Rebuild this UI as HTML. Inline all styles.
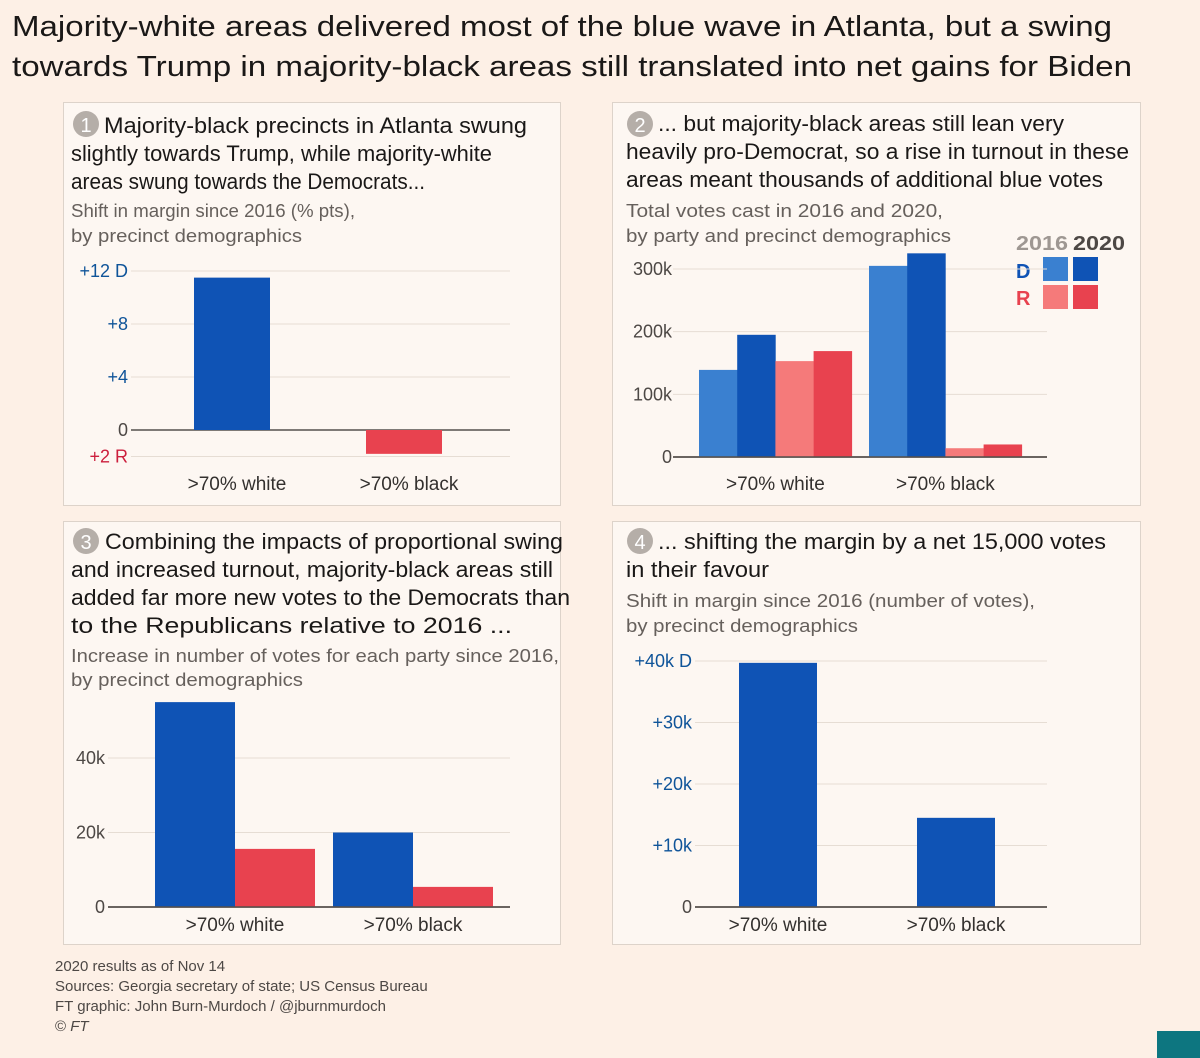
<!DOCTYPE html>
<html><head><meta charset="utf-8"><style>
html,body{margin:0;padding:0;background:#fdf0e6;}
svg{display:block;font-family:"Liberation Sans",sans-serif;}
</style></head><body>
<svg id="s" width="1200" height="1058" viewBox="0 0 1200 1058">
<rect width="1200" height="1058" fill="#fdf0e6"/>
<g font-size="29" fill="#1a1817">
<text x="12" y="36" textLength="1100" lengthAdjust="spacingAndGlyphs">Majority-white areas delivered most of the blue wave in Atlanta, but a swing</text>
<text x="12" y="76" textLength="1120" lengthAdjust="spacingAndGlyphs">towards Trump in majority-black areas still translated into net gains for Biden</text>
</g>
<rect x="63.5" y="102.5" width="497" height="403" fill="#fdf7f2" stroke="#ddd3ca"/>
<rect x="612.5" y="102.5" width="528" height="403" fill="#fdf7f2" stroke="#ddd3ca"/>
<rect x="63.5" y="521.5" width="497" height="423" fill="#fdf7f2" stroke="#ddd3ca"/>
<rect x="612.5" y="521.5" width="528" height="423" fill="#fdf7f2" stroke="#ddd3ca"/>

<g font-size="22" fill="#1a1817">
<circle cx="86" cy="124" r="13" fill="#b5aea8"/><text x="86" y="132" font-size="20" fill="#fff" text-anchor="middle">1</text>
<text x="104" y="133" textLength="423" lengthAdjust="spacingAndGlyphs">Majority-black precincts in Atlanta swung</text>
<text x="71" y="161" textLength="421" lengthAdjust="spacingAndGlyphs">slightly towards Trump, while majority-white</text>
<text x="71" y="189" textLength="354" lengthAdjust="spacingAndGlyphs">areas swung towards the Democrats...</text>
</g>
<g font-size="18" fill="#66605c">
<text x="71" y="217" textLength="284" lengthAdjust="spacingAndGlyphs">Shift in margin since 2016 (% pts),</text>
<text x="71" y="242" textLength="231" lengthAdjust="spacingAndGlyphs">by precinct demographics</text>
</g>

<g font-size="22" fill="#1a1817">
<circle cx="640" cy="124" r="13" fill="#b5aea8"/><text x="640" y="132" font-size="20" fill="#fff" text-anchor="middle">2</text>
<text x="658" y="131" textLength="406" lengthAdjust="spacingAndGlyphs">... but majority-black areas still lean very</text>
<text x="626" y="159" textLength="503" lengthAdjust="spacingAndGlyphs">heavily pro-Democrat, so a rise in turnout in these</text>
<text x="626" y="187" textLength="477" lengthAdjust="spacingAndGlyphs">areas meant thousands of additional blue votes</text>
</g>
<g font-size="18" fill="#66605c">
<text x="626" y="217" textLength="317" lengthAdjust="spacingAndGlyphs">Total votes cast in 2016 and 2020,</text>
<text x="626" y="242" textLength="325" lengthAdjust="spacingAndGlyphs">by party and precinct demographics</text>
</g>
<g font-size="20" font-weight="bold">
<text x="1016" y="250" fill="#9e9792" textLength="52" lengthAdjust="spacingAndGlyphs">2016</text>
<text x="1073" y="250" fill="#4d4845" textLength="52" lengthAdjust="spacingAndGlyphs">2020</text>
<text x="1016" y="278" fill="#0f53b5">D</text>
<text x="1016" y="305" fill="#e8424f">R</text>
<rect x="1043" y="257" width="25" height="24" fill="#3a80d0"/>
<rect x="1073" y="257" width="25" height="24" fill="#0f53b5"/>
<rect x="1043" y="285" width="25" height="24" fill="#f57a7a"/>
<rect x="1073" y="285" width="25" height="24" fill="#e8424f"/>
</g>

<g font-size="22" fill="#1a1817">
<circle cx="86" cy="541" r="13" fill="#b5aea8"/><text x="86" y="549" font-size="20" fill="#fff" text-anchor="middle">3</text>
<text x="105" y="549" textLength="458" lengthAdjust="spacingAndGlyphs">Combining the impacts of proportional swing</text>
<text x="71" y="577" textLength="482" lengthAdjust="spacingAndGlyphs">and increased turnout, majority-black areas still</text>
<text x="71" y="605" textLength="499" lengthAdjust="spacingAndGlyphs">added far more new votes to the Democrats than</text>
<text x="71" y="633" textLength="441" lengthAdjust="spacingAndGlyphs">to the Republicans relative to 2016 ...</text>
</g>
<g font-size="18" fill="#66605c">
<text x="71" y="662" textLength="488" lengthAdjust="spacingAndGlyphs">Increase in number of votes for each party since 2016,</text>
<text x="71" y="686" textLength="232" lengthAdjust="spacingAndGlyphs">by precinct demographics</text>
</g>

<g font-size="22" fill="#1a1817">
<circle cx="640" cy="541" r="13" fill="#b5aea8"/><text x="640" y="549" font-size="20" fill="#fff" text-anchor="middle">4</text>
<text x="658" y="549" textLength="448" lengthAdjust="spacingAndGlyphs">... shifting the margin by a net 15,000 votes</text>
<text x="626" y="577" textLength="143" lengthAdjust="spacingAndGlyphs">in their favour</text>
</g>
<g font-size="18" fill="#66605c">
<text x="626" y="607" textLength="409" lengthAdjust="spacingAndGlyphs">Shift in margin since 2016 (number of votes),</text>
<text x="626" y="632" textLength="232" lengthAdjust="spacingAndGlyphs">by precinct demographics</text>
</g>

<g font-size="15" fill="#4d4845">
<text x="55" y="971">2020 results as of Nov 14</text>
<text x="55" y="991">Sources: Georgia secretary of state; US Census Bureau</text>
<text x="55" y="1011">FT graphic: John Burn-Murdoch / @jburnmurdoch</text>
<text x="55" y="1031">© <tspan font-style="italic">FT</tspan></text>
</g>
<rect x="1157" y="1031" width="43" height="27" fill="#0d7680"/>
<g id="charts"></g>
</svg>
<script>
// Panel 1
const p1Cats = [">70% white", ">70% black"];
const p1Vals = [11.5, -1.8];
const p1Ticks = [12, 8, 4, 0, -2];
const p1TickLabels = ["+12 D", "+8", "+4", "0", "+2 R"];
// Panel 2
const p2Cats = [">70% white", ">70% black"];
const p2D2016 = [139, 305];
const p2D2020 = [195, 325];
const p2R2016 = [153, 14];
const p2R2020 = [169, 20];
const p2Ticks = [0, 100, 200, 300];
const p2TickLabels = ["0", "100k", "200k", "300k"];
// Panel 3
const p3Cats = [">70% white", ">70% black"];
const p3D = [55, 20];
const p3R = [15.6, 5.4];
const p3Ticks = [0, 20, 40];
const p3TickLabels = ["0", "20k", "40k"];
// Panel 4
const p4Cats = [">70% white", ">70% black"];
const p4Vals = [39.7, 14.5];
const p4Ticks = [0, 10, 20, 30, 40];
const p4TickLabels = ["0", "+10k", "+20k", "+30k", "+40k D"];

const NS = "http://www.w3.org/2000/svg";
const root = document.getElementById("charts");
function mk(tag, attrs, parent) {
  const e = document.createElementNS(NS, tag);
  for (const k in attrs) e.setAttribute(k, attrs[k]);
  (parent || root).appendChild(e);
  return e;
}
function lin(d0, d1, r0, r1) { return v => r0 + (v - d0) * (r1 - r0) / (d1 - d0); }
const C = {d16:"#3a80d0", d20:"#0f53b5", r16:"#f57a7a", r20:"#e8424f"};

function axis(g, ticks, labels, y, x0, x1, labelX, colorFn) {
  ticks.forEach((t, i) => {
    const isZero = t === 0;
    const ln = mk("line", {x1: x0, x2: x1, y1: y(t), y2: y(t), stroke: isZero ? "#55504c" : "#e6ddd4", "stroke-width": isZero ? 1.5 : 1}, g);
    
    
    const tx = mk("text", {x: labelX, y: y(t) + 6, "text-anchor": "end", "font-size": 18, fill: colorFn(t)}, g);
    tx.textContent = labels[i];
    
    
  });
}
function catLabel(g, x, y, txt) {
  const t = mk("text", {x: x, y: y, "text-anchor": "middle", "font-size": 19, fill: "#33302e"}, g);
  t.textContent = txt;
  
  
}
function bar(g, x, w, y0, y1, fill, name) {
  const r = mk("rect", {x: x, width: w, y: Math.min(y0, y1), height: Math.abs(y1 - y0), fill: fill}, g);
  
  
}

// Chart 1
{
  const g = mk("g", {});
  
  
  const y = lin(0, 12, 430, 271);
  axis(g, p1Ticks, p1TickLabels, y, 131, 510, 128, t => t > 0 ? "#0f5499" : (t < 0 ? "#cc1f3d" : "#4d4845"));
  const centers = [232, 404];
  p1Cats.forEach((c, i) => {
    bar(g, centers[i] - 38, 76, y(0), y(p1Vals[i]), p1Vals[i] >= 0 ? C.d20 : C.r20, "bar-" + (i ? "black" : "white"));
    catLabel(g, centers[i] + 5, 490, c);
  });
}
// Chart 2
{
  const g = mk("g", {});
  
  
  const y = lin(0, 300, 457, 269);
  axis(g, p2Ticks, p2TickLabels, y, 673, 1047, 672, t => "#4d4845");
  const starts = [699, 869], bw = 38.2;
  const series = [[p2D2016, C.d16, "d-2016"], [p2D2020, C.d20, "d-2020"], [p2R2016, C.r16, "r-2016"], [p2R2020, C.r20, "r-2020"]];
  p2Cats.forEach((c, i) => {
    series.forEach((s, j) => bar(g, starts[i] + j * bw, bw + 0.3, y(0), y(s[0][i]), s[1], "bar-" + s[2] + "-" + i));
    catLabel(g, starts[i] + 2 * bw, 490, c);
  });
  // re-draw zero line on top
  const z = mk("line", {x1: 673, x2: 1047, y1: y(0), y2: y(0), stroke: "#55504c", "stroke-width": 1.5}, g);
  
  
}
// Chart 3
{
  const g = mk("g", {});
  
  
  const y = lin(0, 40, 907, 758);
  axis(g, p3Ticks, p3TickLabels, y, 108, 510, 105, t => "#4d4845");
  const starts = [155, 333];
  p3Cats.forEach((c, i) => {
    bar(g, starts[i], 80, y(0), y(p3D[i]), C.d20, "bar-d-" + i);
    bar(g, starts[i] + 80, 80, y(0), y(p3R[i]), C.r20, "bar-r-" + i);
    catLabel(g, starts[i] + 80, 931, c);
  });
  const z = mk("line", {x1: 108, x2: 510, y1: y(0), y2: y(0), stroke: "#55504c", "stroke-width": 1.5}, g);
  
  
}
// Chart 4
{
  const g = mk("g", {});
  
  
  const y = lin(0, 40, 907, 661);
  axis(g, p4Ticks, p4TickLabels, y, 695, 1047, 692, t => t > 0 ? "#0f5499" : "#4d4845");
  const centers = [778, 956];
  p4Cats.forEach((c, i) => {
    bar(g, centers[i] - 39, 78, y(0), y(p4Vals[i]), C.d20, "bar-" + (i ? "black" : "white"));
    catLabel(g, centers[i], 931, c);
  });
  const z = mk("line", {x1: 695, x2: 1047, y1: y(0), y2: y(0), stroke: "#55504c", "stroke-width": 1.5}, g);
  
  
}
</script>
</body></html>
